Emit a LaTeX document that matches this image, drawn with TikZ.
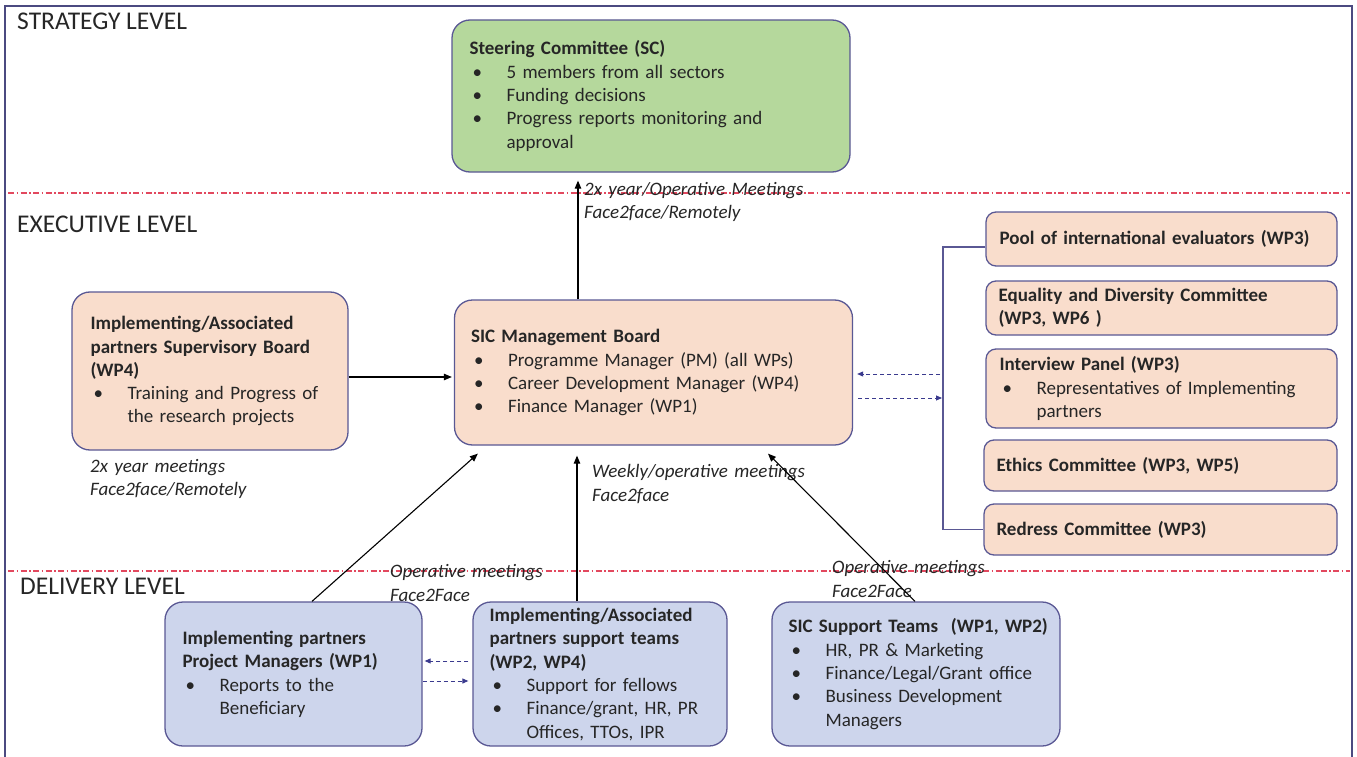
\documentclass[tikz,border=0pt]{standalone}
\usepackage{fontspec}
\setmainfont{Carlito}
\usetikzlibrary{arrows.meta,calc}
\definecolor{framec}{HTML}{4B4A80}
\definecolor{bordc}{HTML}{5A5894}
\definecolor{gfill}{HTML}{B5D89C}
\definecolor{pfill}{HTML}{F9DDCC}
\definecolor{bfill}{HTML}{CDD5EC}
\definecolor{redc}{HTML}{E2485E}
\definecolor{dashc}{HTML}{3A3A8E}
\definecolor{txtc}{HTML}{262626}
\newlength\bind
\setlength\bind{37pt}
\newcommand\bitem[1]{\par\noindent\makebox[\bind][l]{\hspace{3pt}\textbullet}#1}
\newcommand\cont{\newline\hspace*{\bind}}
\tikzset{
 box/.style={draw=bordc, line width=1.3pt, rounded corners=18pt, inner sep=0pt},
 gbox/.style={box, fill=gfill},
 pbox/.style={box, fill=pfill},
 bbox/.style={box, fill=bfill},
 rbox/.style={box, fill=pfill, rounded corners=10pt},
 txt/.style={anchor=west, inner sep=0pt, text width=400pt, align=left, text=txtc, font=\fontsize{19}{23.3}\selectfont},
 lbl/.style={txt, font=\itshape\fontsize{19}{23.3}\selectfont},
 lvl/.style={anchor=west, inner sep=0pt, text=txtc, font=\fontsize{25.5}{30}\selectfont},
 ar/.style={-{Triangle[length=8pt,width=6.5pt]}, line width=1.1pt, draw=black},
 dar/.style={-{Triangle[length=6pt,width=5pt]}, line width=1pt, draw=dashc, dash pattern=on 4pt off 3pt},
 lvline/.style={draw=redc, line width=1.3pt, dash pattern=on 6pt off 2.5pt on 1.5pt off 2.5pt},
 brk/.style={draw=bordc, line width=1.3pt},
}
\begin{document}
\begin{tikzpicture}[x=1pt,y=-1pt]
\useasboundingbox (0,0) rectangle (1357,757);
\fill[white] (0,0) rectangle (1357,757);
% frame
\draw[framec, line width=1.5pt] (5,757) -- (5,6) -- (1352,6) -- (1352,757);
% level separators
\draw[lvline] (8,193) -- (1350,193);
\draw[lvline] (8,571) -- (1350,571);
% level labels
\node[lvl] (lstr) at (17,21) {STRATEGY LEVEL};
\node[lvl] (lexe) at (17,224) {EXECUTIVE LEVEL};
\node[lvl] (ldel) at (20,586) {DELIVERY LEVEL};

% boxes
\node[gbox, minimum width=398pt, minimum height=152pt] (sc) at (651,96) {};
\node[pbox, minimum width=276pt, minimum height=158pt] (sb) at (210,371) {};
\node[pbox, minimum width=398pt, minimum height=145pt] (mb) at (653.5,372.5) {};
\node[rbox, minimum width=351pt, minimum height=54pt] (pool) at (1161.5,239) {};
\node[rbox, minimum width=351pt, minimum height=54pt] (eq) at (1161.5,308) {};
\node[rbox, minimum width=351pt, minimum height=79pt] (ip) at (1161.5,388.5) {};
\node[rbox, minimum width=353pt, minimum height=51pt] (eth) at (1160.5,465.5) {};
\node[rbox, minimum width=353pt, minimum height=51pt] (rdc) at (1160.5,529.5) {};
\node[bbox, minimum width=257pt, minimum height=144pt] (pm) at (293.5,674) {};
\node[bbox, minimum width=254pt, minimum height=144pt] (sup) at (600,674) {};
\node[bbox, minimum width=288pt, minimum height=144pt] (sic) at (916,674) {};

% box texts
\node[txt] (sct) at ($(sc.west)+(18,0)$) {\rule{0pt}{14pt}\textbf{Steering Committee (SC)}\bitem{5 members from all sectors}\bitem{Funding decisions}\bitem{Progress reports monitoring and\cont approval}};
\node[txt] (sbt) at ($(sb.west)+(19,0)$) {\rule{0pt}{14pt}\textbf{Implementing/Associated\newline partners Supervisory Board\newline (WP4)}\bitem{Training and Progress of\cont the research projects}};
\node[txt] (mbt) at ($(mb.west)+(17,0)$) {\rule{0pt}{14pt}\textbf{SIC Management Board}\bitem{Programme Manager (PM) (all WPs)}\bitem{Career Development Manager (WP4)}\bitem{Finance Manager (WP1)}};
\node[txt] (poolt) at ($(pool.west)+(14,0)$) {\textbf{Pool of international evaluators (WP3)}};
\node[txt] (eqt) at ($(eq.west)+(13,0)$) {\textbf{Equality and Diversity Committee\newline (WP3, WP6 )}};
\node[txt] (ipt) at ($(ip.west)+(14,0)$) {\rule{0pt}{14pt}\textbf{Interview Panel (WP3)}\bitem{Representatives of Implementing\cont partners}};
\node[txt] (etht) at ($(eth.west)+(13,0)$) {\textbf{Ethics Committee (WP3, WP5)}};
\node[txt] (rdct) at ($(rdc.west)+(13,0)$) {\textbf{Redress Committee (WP3)}};
\node[txt] (pmt) at ($(pm.west)+(18,0)$) {\rule{0pt}{14pt}\textbf{Implementing partners\newline Project Managers (WP1)}\bitem{Reports to the\cont Beneficiary}};
\node[txt] (supt) at ($(sup.west)+(17,0)$) {\rule{0pt}{14pt}\textbf{Implementing/Associated\newline partners support teams\newline (WP2, WP4)}\bitem{Support for fellows}\bitem{Finance/grant, HR, PR\cont Offices, TTOs, IPR}};
\node[txt] (sict) at ($(sic.west)+(17,0)$) {\rule{0pt}{14pt}\textbf{SIC Support Teams\ \ (WP1, WP2)}\bitem{HR, PR \& Marketing}\bitem{Finance/Legal/Grant office}\bitem{Business Development\cont Managers}};

% connector labels
\node[lbl] (l1) at (584,202) {2x year/Operative Meetings\\Face2face/Remotely};
\node[lbl] (l2) at (90,479) {2x year meetings\\Face2face/Remotely};
\node[lbl] (l3) at (592,484) {Weekly/operative meetings\\Face2face};
\node[lbl] (l4) at (390,583) {Operative meetings\\Face2Face};
\node[lbl] (l5) at (832,579) {Operative meetings\\Face2Face};

% bracket on the right column
\coordinate (brtop) at (943,247);
\coordinate (brbot) at (943,529.5);
\coordinate (da1) at (940,374);
\coordinate (da2) at (942,398);
\draw[brk] ($(pool.west)+(0,8)$) -- (brtop) -- (brbot) -- (rdc.west);

% connectors
\draw[ar] ($(mb.north)+(-75.5,0)$) -- ($(sc.south)+(-73,8)$);
\draw[ar] ($(sb.east)+(0,6)$) -- ($(mb.west)+(-2,4.5)$);
\draw[ar] ($(pm.north)+(18.5,0)$) -- ($(mb.south west)+(24,8)$);
\draw[ar] ($(sup.north)+(-23,0)$) -- ($(mb.south)+(-76.5,10)$);
\draw[ar] ($(sic.north)+(-1,0)$) -- ($(mb.south)+(114.5,8)$);
\draw[dar] (da1) -- ($(mb.east)+(4,1.5)$);
\draw[dar] ($(mb.east)+(5,25.5)$) -- (da2);
\draw[dar] ($(sup.west)+(-4,-13)$) -- ($(pm.east)+(2,-13)$);
\draw[dar] ($(pm.east)+(0,7)$) -- ($(sup.west)+(-4,7)$);
\end{tikzpicture}
\end{document}
